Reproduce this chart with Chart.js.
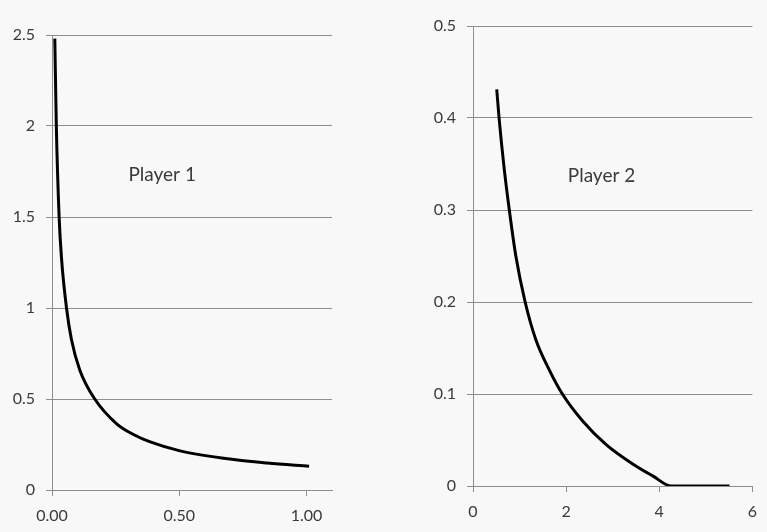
<!DOCTYPE html>
<html>
<head>
<meta charset="utf-8">
<script src="https://cdn.jsdelivr.net/npm/chart.js@4"></script>
<style>
  html, body { margin: 0; padding: 0; background: #f8f8f8; }
  #wrap { position: relative; width: 767px; height: 532px; background: #f8f8f8; }
  canvas { position: absolute; top: 0; }
  #left { left: 0; }
  #right { left: 400px; }
</style>
</head>
<body>
<div id="wrap">
  <canvas id="left" width="340" height="532"></canvas>
  <canvas id="right" width="367" height="532"></canvas>
</div>
<script>
// values
const player1X = [0.011, 0.017, 0.028, 0.037, 0.057, 0.076, 0.109, 0.168, 0.254, 0.32, 0.386, 0.503, 0.714, 0.846, 1.01];
const player1Y = [2.48, 2.0, 1.5, 1.28, 1.0, 0.83, 0.66, 0.5, 0.364, 0.305, 0.264, 0.215, 0.167, 0.148, 0.13];

const player2X = [0.51, 0.56, 0.67, 0.78, 0.92, 1.12, 1.35, 1.64, 1.92, 2.35, 2.86, 3.43, 3.86, 4.26, 5.51];
const player2Y = [0.431, 0.40, 0.345, 0.30, 0.25, 0.20, 0.159, 0.126, 0.10, 0.071, 0.045, 0.024, 0.011, 0, 0];

const player1Ticks = { xMax: 1.1, xStep: 0.5, yMax: 2.5, yStep: 0.5 };
const player2Ticks = { xMax: 6, xStep: 2, yMax: 0.5, yStep: 0.1 };

const FONT = 'Lato, "Open Sans", sans-serif';
const TEXT = '#3a3a3a';
const GRID = '#8e8e8e';

const textLabel = {
  id: 'textLabel',
  afterDraw(chart, args, opts) {
    const { ctx, scales } = chart;
    ctx.save();
    ctx.font = '19px ' + FONT;
    ctx.fillStyle = TEXT;
    ctx.textAlign = 'center';
    ctx.textBaseline = 'middle';
    ctx.fillText(opts.text, scales.x.getPixelForValue(opts.x), scales.y.getPixelForValue(opts.y));
    ctx.restore();
  }
};

function makeChart(id, xs, ys, t, opts) {
  const points = xs.map((x, i) => ({ x: x, y: ys[i] }));
  return new Chart(document.getElementById(id), {
    type: 'scatter',
    data: {
      datasets: [{
        data: points,
        showLine: true,
        borderColor: '#000',
        borderWidth: 3,
        pointRadius: 0,
        cubicInterpolationMode: 'monotone',
      }],
    },
    options: {
      responsive: false,
      animation: false,
      layout: { padding: { top: opts.top, right: opts.right, left: 0, bottom: 0 } },
      plugins: {
        legend: { display: false },
        tooltip: { enabled: false },
        textLabel: opts.label,
      },
      scales: {
        x: {
          type: 'linear',
          min: 0,
          max: t.xMax,
          afterFit: (s) => { s.height = opts.xHeight; },
          border: { display: true, color: GRID, width: 1 },
          grid: { drawOnChartArea: false, drawTicks: true, tickLength: 6, color: GRID },
          ticks: {
            stepSize: t.xStep,
            includeBounds: false,
            padding: 10,
            color: TEXT,
            font: { family: FONT, size: 16 },
            maxRotation: 0,
            callback: opts.xFormat,
          },
        },
        y: {
          min: 0,
          max: t.yMax,
          afterFit: (s) => { s.width = opts.yWidth; },
          border: { display: true, color: GRID, width: 1 },
          grid: { drawTicks: true, tickLength: 6, color: GRID },
          ticks: {
            stepSize: t.yStep,
            padding: 11,
            color: TEXT,
            font: { family: FONT, size: 16 },
            callback: (v) => String(+v.toFixed(2)),
          },
        },
      },
    },
    plugins: [textLabel],
  });
}

makeChart('left', player1X, player1Y, player1Ticks, {
  top: 35, right: 8, xHeight: 42, yWidth: 52,
  xFormat: (v) => v.toFixed(2),
  label: { text: 'Player 1', x: 0.433, y: 1.73 },
});

makeChart('right', player2X, player2Y, player2Ticks, {
  top: 26, right: 14, xHeight: 46, yWidth: 73,
  xFormat: (v) => String(v),
  label: { text: 'Player 2', x: 2.76, y: 0.337 },
});
</script>
</body>
</html>
